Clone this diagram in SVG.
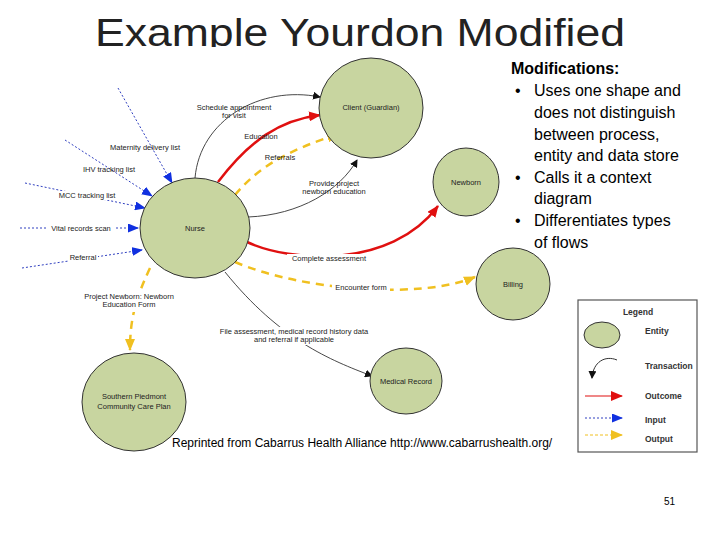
<svg xmlns="http://www.w3.org/2000/svg" width="720" height="540" viewBox="0 0 720 540">
<style>
.ent{fill:#c8d5a0;stroke:#333;stroke-width:1}
.nl{font-family:"Liberation Sans",Arial,sans-serif;font-size:7.5px;fill:#222;text-anchor:middle}
.fl{font-family:"Liberation Sans",Arial,sans-serif;font-size:7.5px;fill:#222;text-anchor:middle}
.bt{font-family:"Liberation Sans",Arial,sans-serif;font-size:16px;fill:#000}
.tr{fill:none;stroke:#333;stroke-width:0.9}
.oc{fill:none;stroke:#e01010;stroke-width:2.5}
.op{fill:none;stroke:#f0c020;stroke-width:2.5;stroke-dasharray:8 6}
.in{fill:none;stroke:#3040c0;stroke-width:1;stroke-dasharray:2 2}
.lg{font-family:"Liberation Sans",Arial,sans-serif;font-size:8.5px;font-weight:bold;fill:#333}
</style>
<defs>
<marker id="ab" markerWidth="8" markerHeight="8" refX="7" refY="4" orient="auto" markerUnits="userSpaceOnUse"><path d="M0,0 L8,4 L0,8z" fill="#111"/></marker>
<marker id="ar" markerWidth="12" markerHeight="10" refX="11" refY="5" orient="auto" markerUnits="userSpaceOnUse"><path d="M0,0 L12,5 L0,10z" fill="#e01010"/></marker>
<marker id="ay" markerWidth="12" markerHeight="10" refX="11" refY="5" orient="auto" markerUnits="userSpaceOnUse"><path d="M0,0 L12,5 L0,10z" fill="#f0c020"/></marker>
<marker id="au" markerWidth="11" markerHeight="9" refX="10" refY="4.5" orient="auto" markerUnits="userSpaceOnUse"><path d="M0,0 L11,4.5 L0,9z" fill="#1030e0"/></marker>
</defs>
<rect width="720" height="540" fill="#fff"/>
<text x="95" y="46" font-family="'Liberation Sans',Arial,sans-serif" font-size="39" fill="#222" textLength="530" lengthAdjust="spacingAndGlyphs">Example Yourdon Modified</text>
<rect x="0" y="47" width="520" height="10" fill="#fff"/>
<g id="connectors">
<path class="tr" d="M195,178 C200,120 260,85 320,97" marker-end="url(#ab)"/>
<path class="oc" d="M218,182 C250,140 280,120 320,115" marker-end="url(#ar)"/>
<path class="op" d="M235,195 C260,165 290,150 338,134" marker-end="url(#ay)"/>
<path class="tr" d="M248,217 C300,215 340,190 357,160" marker-end="url(#ab)"/>
<path class="oc" d="M247,242 C290,262 390,270 438,206" marker-end="url(#ar)"/>
<path class="op" d="M235,262 C300,290 420,300 475,277" marker-end="url(#ay)"/>
<path class="tr" d="M225,272 C280,340 330,360 372,376" marker-end="url(#ab)"/>
<path class="op" d="M150,268 C135,300 130,320 130,350" marker-end="url(#ay)"/>
<path class="in" d="M118,88 L172,183" marker-end="url(#au)"/>
<path class="in" d="M65,140 L152,196" marker-end="url(#au)"/>
<path class="in" d="M25,183 L145,208" marker-end="url(#au)"/>
<path class="in" d="M20,228 L138,228" marker-end="url(#au)"/>
<path class="in" d="M22,268 L142,250" marker-end="url(#au)"/>
<rect x="48" y="224" width="66" height="9" fill="#fff"/>
<text class="fl" x="81" y="231">Vital records scan</text>
<rect x="68" y="253" width="30" height="9" fill="#fff"/>
<text class="fl" x="83" y="260">Referral</text>
<rect x="22" y="191" width="96" height="9" fill="#fff"/>
<text class="fl" x="87" y="198">MCC tracking list</text>
<text class="fl" x="109" y="172">IHV tracking list</text>
<text class="fl" x="145" y="150">Maternity delivery list</text>
<text class="fl" x="234" y="110">Schedule appointment</text>
<text class="fl" x="234" y="118">for visit</text>
<text class="fl" x="261" y="139">Education</text>
<text class="fl" x="280" y="160">Referrals</text>
<text class="fl" x="334" y="186">Provide project</text>
<text class="fl" x="334" y="194">newborn education</text>
<rect x="287" y="254" width="84" height="9" fill="#fff"/>
<text class="fl" x="329" y="261">Complete assessment</text>
<rect x="332" y="283" width="58" height="9" fill="#fff"/>
<text class="fl" x="361" y="290">Encounter form</text>
<rect x="82" y="292" width="96" height="20" fill="#fff"/>
<text class="fl" x="129" y="299">Project Newborn: Newborn</text>
<text class="fl" x="129" y="307">Education Form</text>
<rect x="212" y="327" width="126" height="18" fill="#fff"/>
<text class="fl" x="294" y="334">File assessment, medical record history data</text>
<text class="fl" x="294" y="342">and referral if applicable</text>
</g>
<g id="client"><ellipse class="ent" cx="371" cy="108" rx="52" ry="50"/><text class="nl" x="371" y="110">Client (Guardian)</text></g>
<g id="newborn"><ellipse class="ent" cx="466" cy="182" rx="33" ry="34"/><text class="nl" x="466" y="185">Newborn</text></g>
<g id="nurse"><ellipse class="ent" cx="195" cy="228" rx="55" ry="50"/><text class="nl" x="195" y="231">Nurse</text></g>
<g id="billing"><ellipse class="ent" cx="513" cy="284" rx="37" ry="36"/><text class="nl" x="513" y="287">Billing</text></g>
<g id="medical-record"><ellipse class="ent" cx="406" cy="381" rx="36" ry="33"/><text class="nl" x="406" y="384">Medical Record</text></g>
<g id="southern-piedmont"><ellipse class="ent" cx="134" cy="402" rx="52" ry="49"/><text class="nl" x="134" y="399">Southern Piedmont</text><text class="nl" x="134" y="409">Community Care Plan</text></g>
<g id="modifications">
<text class="bt" x="511" y="74" font-weight="bold">Modifications:</text>
<text class="bt" x="515" y="96">•</text><text class="bt" x="534" y="96">Uses one shape and</text>
<text class="bt" x="534" y="118">does not distinguish</text>
<text class="bt" x="534" y="140">between process,</text>
<text class="bt" x="534" y="161">entity and data store</text>
<text class="bt" x="515" y="183">•</text><text class="bt" x="534" y="183">Calls it a context</text>
<text class="bt" x="534" y="204">diagram</text>
<text class="bt" x="515" y="226">•</text><text class="bt" x="534" y="226">Differentiates types</text>
<text class="bt" x="534" y="248">of flows</text>
</g>
<g id="legend">
<rect x="578" y="300" width="119" height="152" fill="#fff" stroke="#555" stroke-width="1.2"/>
<text class="lg" x="638" y="315" text-anchor="middle" font-size="10">Legend</text>
<ellipse cx="602" cy="335" rx="18" ry="13" fill="#c8d5a0" stroke="#333"/>
<text class="lg" x="645" y="334">Entity</text>
<path d="M617,360 C605,355 593,362 592,378" fill="none" stroke="#333" marker-end="url(#ab)"/>
<text class="lg" x="645" y="369">Transaction</text>
<line x1="585" y1="396" x2="622" y2="396" stroke="#e01010" stroke-width="1.2" marker-end="url(#ar)"/>
<text class="lg" x="645" y="399">Outcome</text>
<line x1="585" y1="418" x2="622" y2="418" stroke="#3040c0" stroke-dasharray="2 2" marker-end="url(#au)"/>
<text class="lg" x="645" y="423">Input</text>
<line x1="585" y1="435" x2="622" y2="435" stroke="#f0c020" stroke-dasharray="3 2" marker-end="url(#ay)"/>
<text class="lg" x="645" y="442">Output</text>
</g>
<text x="172" y="447" font-family="'Liberation Sans',Arial,sans-serif" font-size="12" fill="#000">Reprinted from Cabarrus Health Alliance http://www.cabarrushealth.org/</text>
<text x="664" y="505" font-family="'Liberation Sans',Arial,sans-serif" font-size="10" fill="#000">51</text>
</svg>
